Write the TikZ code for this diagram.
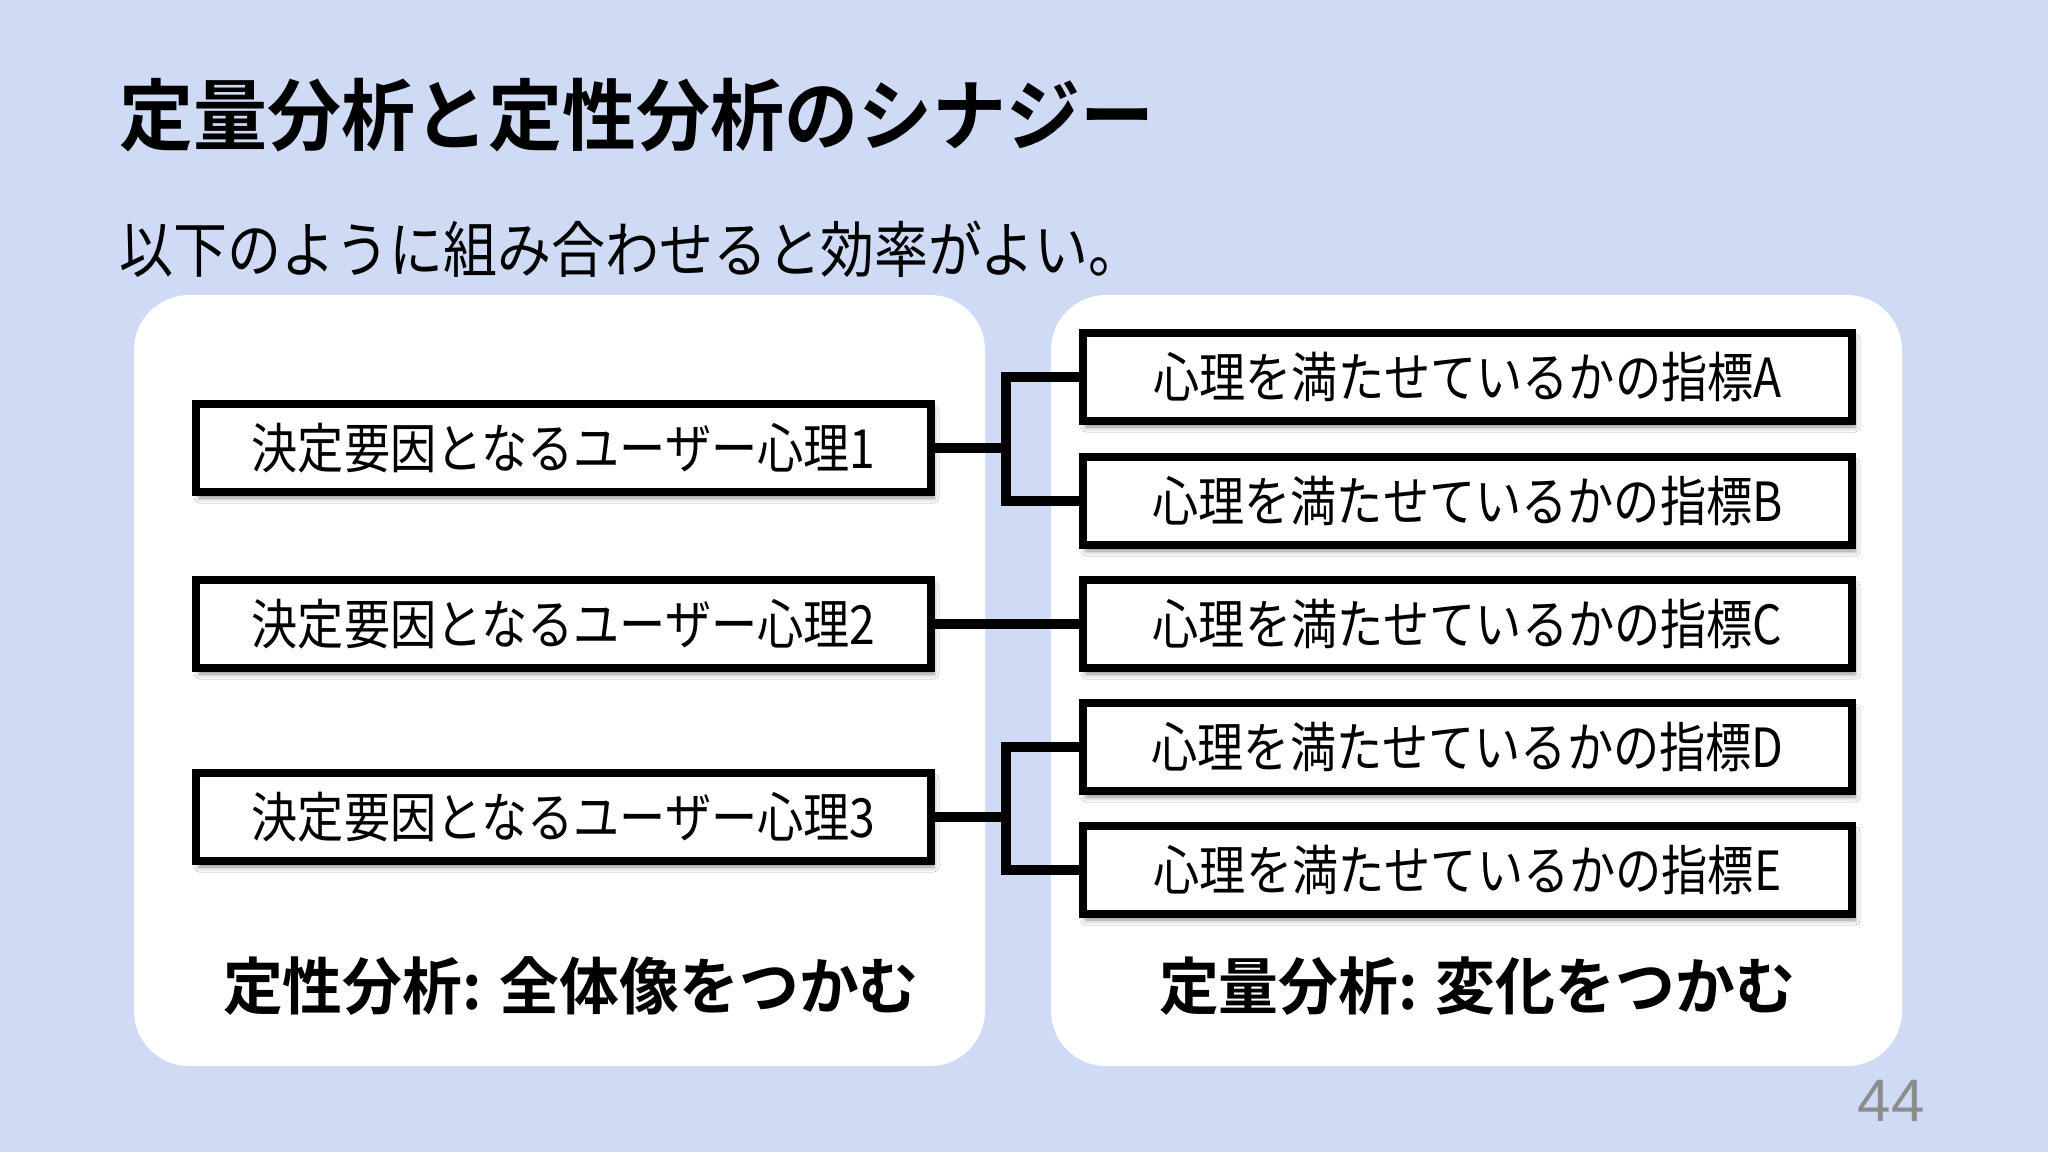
\documentclass[tikz,border=0pt]{standalone}
\usepackage{fontspec}
\usetikzlibrary{shadows.blur}
\newfontfamily\jpbody[FakeStretch=0.855]{Noto Sans CJK JP}
\newfontfamily\jpsub[FakeStretch=0.885]{Noto Sans CJK JP}
\newfontfamily\jptitle[FakeStretch=0.948]{Noto Sans CJK JP Bold}
\newfontfamily\jplabel[FakeStretch=0.965]{Noto Sans CJK JP Bold}
\newfontfamily\pagenum{Liberation Sans}
\definecolor{bgblue}{RGB}{207,219,245}
\definecolor{pnum}{RGB}{140,140,140}
\tikzset{
  panel/.style={fill=white, draw=none, rounded corners=55pt},
  itembox/.style={draw=black, line width=8.5pt, fill=white, minimum height=88pt, inner sep=0pt,
    blur shadow={shadow xshift=3pt, shadow yshift=-6pt, shadow blur radius=5pt, shadow opacity=45},
    font=\jpbody\fontsize{54}{58}\selectfont},
  lbox/.style={itembox, minimum width=735pt},
  rbox/.style={itembox, minimum width=769pt},
  conn/.style={draw=black, line width=9.5pt, line join=miter, line cap=butt},
  heading/.style={anchor=west, inner sep=0pt},
  caption/.style={inner sep=0pt, font=\jplabel\fontsize{62}{66}\selectfont}
}
\begin{document}
\begin{tikzpicture}[x=1pt, y=-1pt]
\fill[bgblue] (0,0) rectangle (2048,1152);
\useasboundingbox (0,0) rectangle (2048,1152);

\node[heading, font=\jptitle\fontsize{78}{82}\selectfont] (title) at (119,115) {定量分析と定性分析のシナジー};
\node[heading, font=\jpsub\fontsize{61}{65}\selectfont] (sub) at (119,249) {以下のように組み合わせると効率がよい。};

\fill[panel] (134,295) rectangle (985,1066);
\fill[panel] (1051,295) rectangle (1902,1066);

\node[lbox] (p1) at (563.5,448) {決定要因となるユーザー心理1};
\node[lbox] (p2) at (563.5,624) {決定要因となるユーザー心理2};
\node[lbox] (p3) at (563.5,817) {決定要因となるユーザー心理3};

\node[rbox] (iA) at (1467.5,377) {心理を満たせているかの指標A};
\node[rbox] (iB) at (1467.5,501) {心理を満たせているかの指標B};
\node[rbox] (iC) at (1467.5,624) {心理を満たせているかの指標C};
\node[rbox] (iD) at (1467.5,747) {心理を満たせているかの指標D};
\node[rbox] (iE) at (1467.5,870) {心理を満たせているかの指標E};

\coordinate (bx) at (1006,0);
\draw[conn] (p1.east) -- (p1.east -| bx);
\draw[conn] (iA.west) -- (iA.west -| bx) -- (iB.west -| bx) -- (iB.west);
\draw[conn] (p2.east) -- (iC.west);
\draw[conn] (p3.east) -- (p3.east -| bx);
\draw[conn] (iD.west) -- (iD.west -| bx) -- (iE.west -| bx) -- (iE.west);

\node[caption] (lcap) at (571,986) {定性分析: 全体像をつかむ};
\node[caption] (rcap) at (1477,986) {定量分析: 変化をつかむ};

\node[inner sep=0pt, text=pnum, font=\pagenum\fontsize{60}{64}\selectfont] (pg) at (1891,1101) {44};
\end{tikzpicture}
\end{document}
